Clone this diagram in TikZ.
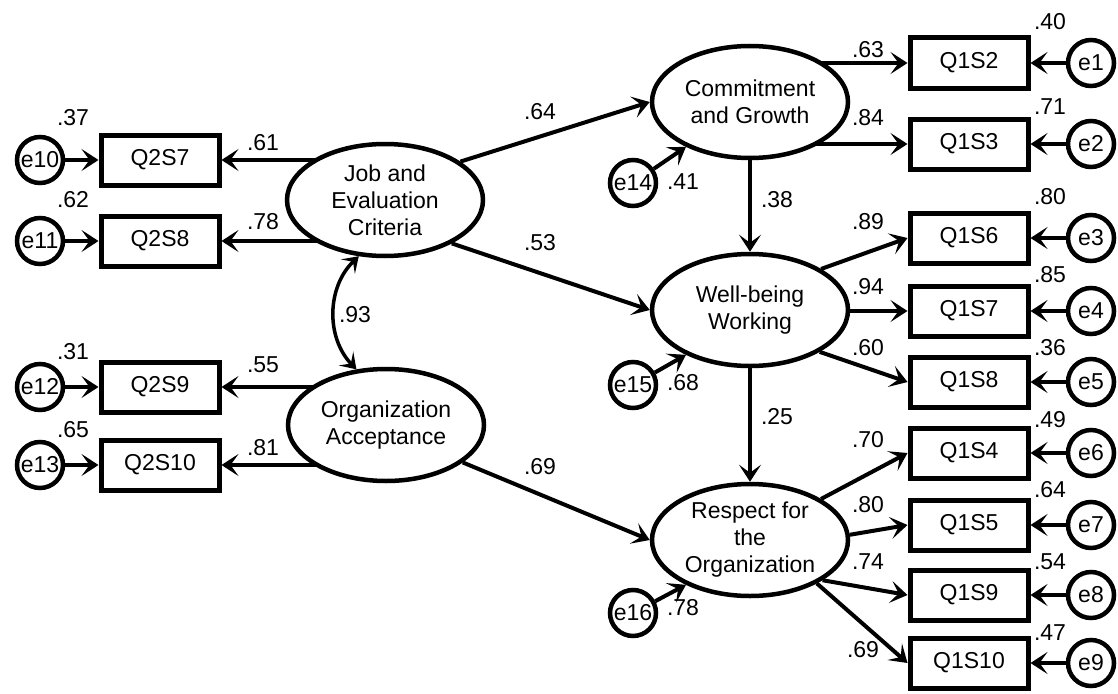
\documentclass[tikz,border=0pt]{standalone}
\usepackage{fontspec}
\setmainfont{Liberation Sans}
\usetikzlibrary{shapes.geometric,arrows.meta,backgrounds}
\begin{document}
\begin{tikzpicture}[x=1pt,y=-1pt,
  font=\fontsize{23}{27}\selectfont,
  obs/.style={draw,line width=5pt,minimum width=118pt,minimum height=50pt,inner sep=0pt,fill=white},
  lat/.style={draw,ellipse,line width=4.5pt,minimum width=196pt,minimum height=112pt,inner sep=0pt,align=center,fill=white},
  err/.style={draw,circle,line width=4.5pt,minimum size=46pt,inner sep=0pt,fill=white},
  arr/.style={line width=4pt,-{Stealth[length=17pt,width=22pt,inset=8pt]}},
  lab/.style={inner sep=0pt}]
\useasboundingbox (0,0) rectangle (1118,693);
% observed left
\node[obs] (q2s7) at (160,160) {Q2S7};
\node[obs] (q2s8) at (160,241) {Q2S8};
\node[obs] (q2s9) at (160,387) {Q2S9};
\node[obs] (q2s10) at (160,465) {Q2S10};
\node[err] (e10) at (40,160) {e10};
\node[err] (e11) at (40,241) {e11};
\node[err] (e12) at (40,387) {e12};
\node[err] (e13) at (40,465) {e13};
% latents
\node[lat] (job) at (385,200) {Job and\\Evaluation\\Criteria};
\node[lat] (org) at (386,425) {Organization\\Acceptance};
\node[lat] (cg) at (750,102) {Commitment\\and Growth};
\node[lat] (wb) at (750,310) {Well-being\\Working};
\node[lat] (rs) at (750,540) {Respect for\\the\\Organization};
\node[err] (e14) at (633,183) {e14};
\node[err] (e15) at (633,385) {e15};
\node[err] (e16) at (633,613) {e16};
% observed right
\node[obs] (q1s2) at (969,63) {Q1S2};
\node[obs] (q1s3) at (969,144) {Q1S3};
\node[obs] (q1s6) at (969,238) {Q1S6};
\node[obs] (q1s7) at (969,311) {Q1S7};
\node[obs] (q1s8) at (969,382) {Q1S8};
\node[obs] (q1s4) at (969,453) {Q1S4};
\node[obs] (q1s5) at (969,525) {Q1S5};
\node[obs] (q1s9) at (969,595) {Q1S9};
\node[obs] (q1s10) at (969,663) {Q1S10};
\node[err] (e1) at (1091,63) {e1};
\node[err] (e2) at (1091,144) {e2};
\node[err] (e3) at (1091,238) {e3};
\node[err] (e4) at (1091,311) {e4};
\node[err] (e5) at (1091,382) {e5};
\node[err] (e6) at (1091,453) {e6};
\node[err] (e7) at (1091,525) {e7};
\node[err] (e8) at (1091,595) {e8};
\node[err] (e9) at (1091,663) {e9};
\begin{scope}[on background layer]
\draw[arr] (job.center |- q2s7) -- (q2s7.east);
\draw[arr] (job.center |- q2s8) -- (q2s8.east);
\draw[arr] (org.center |- q2s9) -- (q2s9.east);
\draw[arr] (org.center |- q2s10) -- (q2s10.east);
\draw[arr] (cg.center |- q1s2) -- (q1s2.west);
\draw[arr] (cg.center |- q1s3) -- (q1s3.west);
\draw[arr] (wb.30) -- (q1s6.west);
\draw[arr] (wb.center |- q1s7) -- (q1s7.west);
\draw[arr] (wb.-31) -- (q1s8.west);
\draw[arr] (rs.30) -- (q1s4.west);
\draw[arr] (rs.3) -- (q1s5.west);
\draw[arr] (rs.-29) -- (q1s9.west);
\draw[arr] (rs.-33) -- (q1s10.west);
\end{scope}
\draw[arr] (e10) -- (q2s7.west);
\draw[arr] (e11) -- (q2s8.west);
\draw[arr] (e12) -- (q2s9.west);
\draw[arr] (e13) -- (q2s10.west);
\foreach \e/\q in {e1/q1s2,e2/q1s3,e3/q1s6,e4/q1s7,e5/q1s8,e6/q1s4,e7/q1s5,e8/q1s9,e9/q1s10}
  \draw[arr] (\e) -- (\q.east);
\draw[arr] (job.27) -- (cg.west);
\draw[arr] (job.-33) -- (wb.west);
\draw[arr] (org.-26) -- (rs.west);
\draw[arr] (cg.south) -- (wb.north);
\draw[arr] (wb.south) -- (rs.north);
\draw[arr] (e14) -- (cg.215);
\draw[arr] (e15) -- (wb.215);
\draw[arr] (e16) -- (rs.215);
\draw[line width=3.5pt,{Stealth[length=15pt,width=20pt,inset=7pt]}-{Stealth[length=15pt,width=20pt,inset=7pt]}] (job.245) to[bend right=45] (org.118);
% labels
\node[lab] (v37) at (73,118) {.37};
\node[lab] (v62) at (73,200) {.62};
\node[lab] (v31) at (73,352) {.31};
\node[lab] (v65) at (73,430) {.65};
\node[lab] (l61) at (263,143) {.61};
\node[lab] (l78) at (263,222) {.78};
\node[lab] (l55) at (263,365) {.55};
\node[lab] (l81) at (263,448) {.81};
\node[lab] (c93) at (355,315) {.93};
\node[lab] (p64) at (540,112) {.64};
\node[lab] (p53) at (540,243) {.53};
\node[lab] (p69) at (540,467) {.69};
\node[lab] (r41) at (683,182) {.41};
\node[lab] (r68) at (683,383) {.68};
\node[lab] (r78) at (683,608) {.78};
\node[lab] (p38) at (777,200) {.38};
\node[lab] (p25) at (777,417) {.25};
\node[lab] (l63) at (868,50) {.63};
\node[lab] (l84) at (868,118) {.84};
\node[lab] (l89) at (868,222) {.89};
\node[lab] (l94) at (868,287) {.94};
\node[lab] (l60) at (868,348) {.60};
\node[lab] (l70) at (868,440) {.70};
\node[lab] (l80) at (868,505) {.80};
\node[lab] (l74) at (868,562) {.74};
\node[lab] (l69) at (863,650) {.69};
\node[lab] (v40) at (1050,22) {.40};
\node[lab] (v71) at (1050,107) {.71};
\node[lab] (v80) at (1050,197) {.80};
\node[lab] (v85) at (1050,275) {.85};
\node[lab] (v36) at (1050,348) {.36};
\node[lab] (v49) at (1050,420) {.49};
\node[lab] (v64) at (1050,490) {.64};
\node[lab] (v54) at (1050,562) {.54};
\node[lab] (v47) at (1050,633) {.47};
\end{tikzpicture}
\end{document}
